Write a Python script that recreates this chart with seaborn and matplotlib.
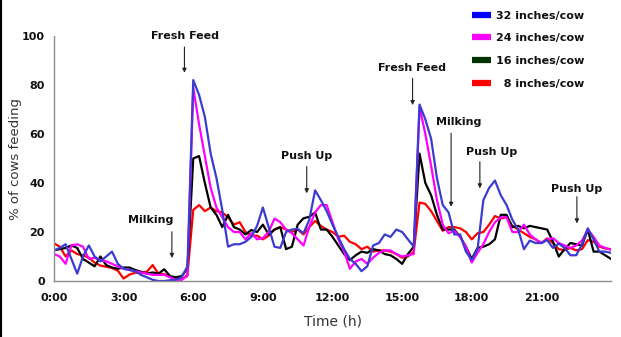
import numpy as np
import pandas as pd
import matplotlib
matplotlib.use("Agg")
import matplotlib.pyplot as plt
from matplotlib.lines import Line2D
import seaborn as sns

# time axis: every 15 minutes, 0:00 .. 24:00 (hours)
hours = [i / 4 for i in range(97)]

cow32 = [12.5, 13.5, 15, 9, 3, 10, 14.5, 10, 8, 10, 12, 7, 5, 4.5, 4, 2.5, 1.5, 0.5, 0, 0, 0.3, 0.5, 1.5, 6,
         82, 76, 67, 52, 42, 29, 14, 15, 15, 16, 18, 22.5, 30, 22, 14, 13.5, 20, 21, 21.3, 19.5, 25, 37, 33, 28.5, 23,
         18, 13, 9, 7, 4, 6, 14.5, 15.5, 19, 18, 21, 20, 17, 14, 72, 66, 58, 42, 31, 28, 19, 19, 12, 8.6, 13, 33, 38,
         41, 35, 31, 25, 21, 13, 16.5, 15.5, 15.5, 16.7, 13.5, 15.3, 13.5, 10.5, 10.5, 15, 21.5, 17, 12, 12, 11.5]

cow24 = [11, 10, 7, 14.5, 15, 14, 9, 9.5, 8.5, 8, 7, 6, 5, 4.5, 4, 3.5, 3, 2.5, 2.5, 2.5, 1.5, 0.5, 0.5, 2,
         79, 64, 51, 38, 30, 26, 22, 20, 20, 17, 19.5, 17, 17.5, 20, 25.5, 24, 21, 19.5, 17, 14.5, 22, 28, 31, 31, 24,
         17, 12, 5, 8, 9, 7, 9.5, 11.5, 12.5, 12.5, 11, 10, 10.5, 11, 71, 60, 47, 33, 23, 19.5, 20.5, 18, 14, 7.5,
         11.5, 15, 20, 24, 26, 26, 20, 20, 23, 19, 17, 15.5, 17, 17.5, 15.5, 14.5, 13.5, 14.5, 16.5, 21, 18, 14.5,
         13.5, 12.7]

cow16 = [12.5, 13, 13.5, 14.5, 13.5, 9, 7.5, 6, 10, 6.5, 5.5, 5, 5.5, 5.5, 4.5, 3.8, 3, 3.5, 3, 4.8, 2, 1.5, 2, 5,
         50, 51, 40, 30, 27, 22, 27, 22, 21, 19, 20.8, 20, 23, 19, 21, 22, 13, 14, 23, 25.6, 26.2, 28, 21, 21, 18,
         14.5, 11, 8.5, 10.5, 12, 11.5, 13, 12.5, 11, 10.5, 9, 7, 11, 14, 52, 40, 35, 27, 21, 21, 21, 18, 14, 9,
         13.5, 14, 15, 17, 27, 27, 22, 22.5, 21.5, 22.5, 22, 21.5, 21, 16, 10, 13, 15.5, 15, 14.5, 21, 12, 12, 10.5, 9]

cow8 = [15.4, 14, 10, 12.5, 11, 10.5, 9.5, 7.5, 6.3, 5.8, 5.3, 4.2, 1.0, 2.6, 3.4, 3.3, 3.8, 6.5, 3.0, 2.8, 1.8, 0.8,
        0.5, 2.5, 29, 31, 28.5, 30, 28.5, 28, 26, 23, 24, 20, 18.5, 18.5, 17, 18.5, 21, 22, 21, 20, 21, 19, 22, 24.5,
        22.5, 21, 20, 18, 18.5, 16, 15, 13, 14, 12, 12.5, 12.5, 12, 11, 9.5, 10, 12, 32, 31.5, 28.5, 24.5, 20.5, 22,
        22, 21.5, 20, 17, 19.5, 20, 23, 26.5, 25.5, 26, 22.5, 21, 19.5, 18, 17, 15.5, 17.4, 15.5, 13, 12.6, 13.5,
        12.5, 13, 16.7, 16, 14, 13.3, 13]

series_names = ["32 inches/cow", "24 inches/cow", "16 inches/cow", "  8 inches/cow"]
line_colors = ["#3B3BD2", "#FF00FF", "#000000", "#FF0000"]
legend_colors = ["#0000FF", "#FF00FF", "#003300", "#FF0000"]

xtick_vals = [0, 3, 6, 9, 12, 15, 18, 21, 24]
xtick_labels = ["0:00", "3:00", "6:00", "9:00", "12:00", "15:00", "18:00", "21:00", ""]
ytick_vals = [0, 20, 40, 60, 80, 100]

# annotations: (text, text_x, text_y, arrow_x, arrow_tail_y, arrow_head_y)
notes = [
    ("Fresh Feed", 5.65, 100.0, 5.62, 95.5, 85.0),
    ("Milking", 4.17, 24.9, 5.08, 20.1, 9.4),
    ("Push Up", 10.89, 51.0, 10.89, 46.7, 35.8),
    ("Fresh Feed", 15.42, 87.1, 15.45, 82.7, 71.8),
    ("Milking", 17.44, 64.7, 17.11, 60.3, 30.3),
    ("Push Up", 18.86, 52.5, 18.35, 48.7, 37.8),
    ("Push Up", 22.53, 37.5, 22.53, 34.4, 23.5),
]

rows = []
for name, vals in zip(series_names, [cow32, cow24, cow16, cow8]):
    for h, v in zip(hours, vals):
        rows.append({"hour": h, "pct": v, "series": name})
df = pd.DataFrame(rows)

sns.set_style("white")
plt.rcParams["font.family"] = ["DejaVu Sans"]

fig = plt.figure(figsize=(6.21, 3.37), dpi=100)
ax = fig.add_axes([54 / 621, 1 - 281 / 337, 557 / 621, 245 / 337])

order = [series_names[3], series_names[2], series_names[1], series_names[0]]
pal = dict(zip(series_names, line_colors))
sns.lineplot(data=df, x="hour", y="pct", hue="series", hue_order=order,
             palette=pal, linewidth=1.6, legend=False, ax=ax)

ax.set_xlim(0, 24)
ax.set_ylim(0, 100)
ax.set_xticks(xtick_vals)
ax.set_xticklabels(xtick_labels, fontsize=8, fontweight="bold")
ax.set_yticks(ytick_vals)
ax.set_yticklabels([str(v) for v in ytick_vals], fontsize=8, fontweight="bold")
for s in ["top", "right"]:
    ax.spines[s].set_visible(False)
for s in ["left", "bottom"]:
    ax.spines[s].set_color("#8a8a8a")
    ax.spines[s].set_linewidth(1.0)
ax.tick_params(axis="both", which="major", direction="out", length=3.5, width=1.0,
               color="#8a8a8a", labelcolor="#111111")
ax.tick_params(axis="x", pad=5)
ax.tick_params(axis="y", pad=3)

ax.set_xlabel("Time (h)", fontsize=10, color="#333333")
ax.set_ylabel("% of cows feeding", fontsize=9.5, color="#333333")
ax.xaxis.set_label_coords(0.5, -0.135)
ax.yaxis.set_label_coords(-0.058, 0.5)

for txt, tx, ty, axx, ty0, ty1 in notes:
    ax.text(tx, ty, txt, fontsize=8, fontweight="bold", ha="center", va="center",
            color="#111111", clip_on=False)
    ax.annotate("", xy=(axx, ty1), xytext=(axx, ty0),
                arrowprops=dict(arrowstyle="-|>", color="#222222", lw=0.8,
                                mutation_scale=6, shrinkA=0, shrinkB=0),
                annotation_clip=False)

handles = [Line2D([0], [0], color=c, lw=4.5, solid_capstyle="butt") for c in legend_colors]
leg = fig.legend(handles, series_names, loc="upper left", bbox_to_anchor=(0.757, 0.975),
                 frameon=False, fontsize=8, handlelength=1.7, handletextpad=0.4,
                 labelspacing=1.14, borderpad=0.2, borderaxespad=0)
for t in leg.get_texts():
    t.set_fontweight("bold")
    t.set_color("#111111")

fig.add_artist(Line2D([0.0016, 0.0016], [0, 1], color="black", lw=1.5,
                      transform=fig.transFigure))

fig.savefig("out.png", dpi=100)
